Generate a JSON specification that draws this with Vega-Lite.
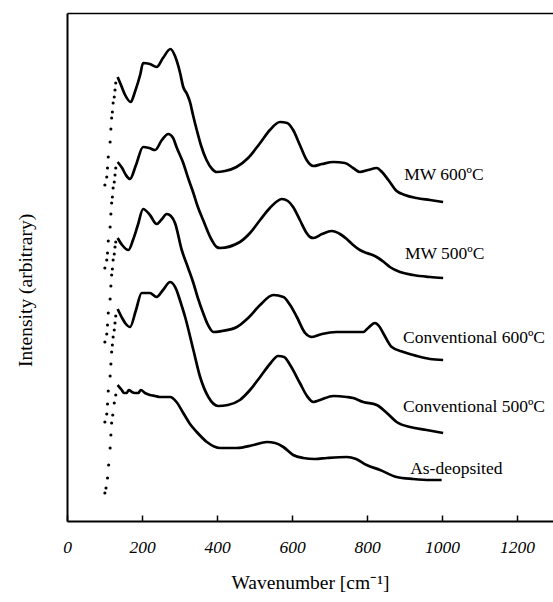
{
  "$schema": "https://vega.github.io/schema/vega-lite/v6.json",
  "autosize": "none",
  "width": 486,
  "height": 508,
  "padding": {"left": 67, "top": 13, "right": 0, "bottom": 81},
  "background": "white",
  "config": {
    "view": {"stroke": null},
    "font": "Liberation Serif",
    "axis": {"labelFont": "Liberation Serif", "titleFont": "Liberation Serif"}
  },
  "resolve": {"axis": {"x": "independent"}},
  "datasets": {
    "curves": [
      {"series": "MW600", "wn": 135, "inten": 444}, {"series": "MW600", "wn": 144, "inten": 436}, {"series": "MW600", "wn": 155, "inten": 426}, {"series": "MW600", "wn": 170, "inten": 419}, {"series": "MW600", "wn": 181, "inten": 429}, {"series": "MW600", "wn": 195, "inten": 446}, {"series": "MW600", "wn": 203, "inten": 458}, {"series": "MW600", "wn": 221, "inten": 457}, {"series": "MW600", "wn": 239, "inten": 454}, {"series": "MW600", "wn": 256, "inten": 463}, {"series": "MW600", "wn": 276, "inten": 472}, {"series": "MW600", "wn": 288, "inten": 465}, {"series": "MW600", "wn": 301, "inten": 449}, {"series": "MW600", "wn": 310, "inten": 434}, {"series": "MW600", "wn": 320, "inten": 427}, {"series": "MW600", "wn": 328, "inten": 419}, {"series": "MW600", "wn": 336, "inten": 406}, {"series": "MW600", "wn": 346, "inten": 391}, {"series": "MW600", "wn": 357, "inten": 376}, {"series": "MW600", "wn": 372, "inten": 361}, {"series": "MW600", "wn": 387, "inten": 352}, {"series": "MW600", "wn": 399, "inten": 349}, {"series": "MW600", "wn": 421, "inten": 350}, {"series": "MW600", "wn": 452, "inten": 354}, {"series": "MW600", "wn": 483, "inten": 363}, {"series": "MW600", "wn": 515, "inten": 378}, {"series": "MW600", "wn": 541, "inten": 391}, {"series": "MW600", "wn": 568, "inten": 399}, {"series": "MW600", "wn": 587, "inten": 398}, {"series": "MW600", "wn": 603, "inten": 391}, {"series": "MW600", "wn": 621, "inten": 376}, {"series": "MW600", "wn": 639, "inten": 361}, {"series": "MW600", "wn": 657, "inten": 355}, {"series": "MW600", "wn": 680, "inten": 357}, {"series": "MW600", "wn": 710, "inten": 359}, {"series": "MW600", "wn": 741, "inten": 358}, {"series": "MW600", "wn": 763, "inten": 353}, {"series": "MW600", "wn": 781, "inten": 349}, {"series": "MW600", "wn": 803, "inten": 351}, {"series": "MW600", "wn": 826, "inten": 353}, {"series": "MW600", "wn": 840, "inten": 349}, {"series": "MW600", "wn": 857, "inten": 341}, {"series": "MW600", "wn": 879, "inten": 330}, {"series": "MW600", "wn": 901, "inten": 326}, {"series": "MW600", "wn": 932, "inten": 323}, {"series": "MW600", "wn": 968, "inten": 321}, {"series": "MW600", "wn": 1003, "inten": 319},

      {"series": "MW500", "wn": 135, "inten": 359}, {"series": "MW500", "wn": 147, "inten": 353}, {"series": "MW500", "wn": 157, "inten": 346}, {"series": "MW500", "wn": 168, "inten": 342}, {"series": "MW500", "wn": 184, "inten": 356}, {"series": "MW500", "wn": 203, "inten": 374}, {"series": "MW500", "wn": 219, "inten": 373}, {"series": "MW500", "wn": 235, "inten": 371}, {"series": "MW500", "wn": 253, "inten": 381}, {"series": "MW500", "wn": 270, "inten": 387}, {"series": "MW500", "wn": 283, "inten": 383}, {"series": "MW500", "wn": 292, "inten": 374}, {"series": "MW500", "wn": 310, "inten": 358}, {"series": "MW500", "wn": 323, "inten": 343}, {"series": "MW500", "wn": 337, "inten": 328}, {"series": "MW500", "wn": 349, "inten": 314}, {"series": "MW500", "wn": 363, "inten": 301}, {"series": "MW500", "wn": 386, "inten": 281}, {"series": "MW500", "wn": 399, "inten": 274}, {"series": "MW500", "wn": 408, "inten": 273}, {"series": "MW500", "wn": 461, "inten": 279}, {"series": "MW500", "wn": 488, "inten": 288}, {"series": "MW500", "wn": 515, "inten": 301}, {"series": "MW500", "wn": 541, "inten": 313}, {"series": "MW500", "wn": 573, "inten": 322}, {"series": "MW500", "wn": 589, "inten": 320}, {"series": "MW500", "wn": 603, "inten": 314}, {"series": "MW500", "wn": 621, "inten": 301}, {"series": "MW500", "wn": 639, "inten": 288}, {"series": "MW500", "wn": 648, "inten": 284}, {"series": "MW500", "wn": 657, "inten": 283}, {"series": "MW500", "wn": 680, "inten": 287}, {"series": "MW500", "wn": 706, "inten": 290}, {"series": "MW500", "wn": 728, "inten": 287}, {"series": "MW500", "wn": 746, "inten": 282}, {"series": "MW500", "wn": 763, "inten": 276}, {"series": "MW500", "wn": 781, "inten": 271}, {"series": "MW500", "wn": 799, "inten": 268}, {"series": "MW500", "wn": 815, "inten": 266}, {"series": "MW500", "wn": 830, "inten": 263}, {"series": "MW500", "wn": 845, "inten": 259}, {"series": "MW500", "wn": 861, "inten": 254}, {"series": "MW500", "wn": 888, "inten": 249}, {"series": "MW500", "wn": 923, "inten": 246}, {"series": "MW500", "wn": 968, "inten": 244}, {"series": "MW500", "wn": 1003, "inten": 243},

      {"series": "C600", "wn": 135, "inten": 283}, {"series": "C600", "wn": 147, "inten": 276}, {"series": "C600", "wn": 164, "inten": 271}, {"series": "C600", "wn": 176, "inten": 281}, {"series": "C600", "wn": 189, "inten": 296}, {"series": "C600", "wn": 203, "inten": 312}, {"series": "C600", "wn": 221, "inten": 306}, {"series": "C600", "wn": 239, "inten": 297}, {"series": "C600", "wn": 251, "inten": 301}, {"series": "C600", "wn": 266, "inten": 307}, {"series": "C600", "wn": 277, "inten": 305}, {"series": "C600", "wn": 288, "inten": 298}, {"series": "C600", "wn": 306, "inten": 271}, {"series": "C600", "wn": 323, "inten": 253}, {"series": "C600", "wn": 337, "inten": 238}, {"series": "C600", "wn": 349, "inten": 223}, {"series": "C600", "wn": 363, "inten": 208}, {"series": "C600", "wn": 376, "inten": 196}, {"series": "C600", "wn": 390, "inten": 189}, {"series": "C600", "wn": 413, "inten": 190}, {"series": "C600", "wn": 453, "inten": 194}, {"series": "C600", "wn": 483, "inten": 203}, {"series": "C600", "wn": 515, "inten": 216}, {"series": "C600", "wn": 550, "inten": 226}, {"series": "C600", "wn": 577, "inten": 224}, {"series": "C600", "wn": 595, "inten": 216}, {"series": "C600", "wn": 613, "inten": 204}, {"series": "C600", "wn": 635, "inten": 188}, {"series": "C600", "wn": 653, "inten": 184}, {"series": "C600", "wn": 680, "inten": 187}, {"series": "C600", "wn": 719, "inten": 189}, {"series": "C600", "wn": 755, "inten": 189}, {"series": "C600", "wn": 790, "inten": 189}, {"series": "C600", "wn": 803, "inten": 193}, {"series": "C600", "wn": 821, "inten": 198}, {"series": "C600", "wn": 832, "inten": 195}, {"series": "C600", "wn": 843, "inten": 188}, {"series": "C600", "wn": 866, "inten": 174}, {"series": "C600", "wn": 897, "inten": 169}, {"series": "C600", "wn": 933, "inten": 165}, {"series": "C600", "wn": 968, "inten": 162}, {"series": "C600", "wn": 1003, "inten": 161},

      {"series": "C500", "wn": 135, "inten": 212}, {"series": "C500", "wn": 147, "inten": 203}, {"series": "C500", "wn": 157, "inten": 197}, {"series": "C500", "wn": 168, "inten": 194}, {"series": "C500", "wn": 184, "inten": 211}, {"series": "C500", "wn": 199, "inten": 228}, {"series": "C500", "wn": 221, "inten": 228}, {"series": "C500", "wn": 239, "inten": 224}, {"series": "C500", "wn": 256, "inten": 231}, {"series": "C500", "wn": 275, "inten": 239}, {"series": "C500", "wn": 292, "inten": 231}, {"series": "C500", "wn": 301, "inten": 221}, {"series": "C500", "wn": 315, "inten": 204}, {"series": "C500", "wn": 337, "inten": 171}, {"series": "C500", "wn": 355, "inten": 144}, {"series": "C500", "wn": 377, "inten": 124}, {"series": "C500", "wn": 403, "inten": 115}, {"series": "C500", "wn": 429, "inten": 116}, {"series": "C500", "wn": 461, "inten": 121}, {"series": "C500", "wn": 488, "inten": 131}, {"series": "C500", "wn": 515, "inten": 144}, {"series": "C500", "wn": 541, "inten": 157}, {"series": "C500", "wn": 563, "inten": 165}, {"series": "C500", "wn": 579, "inten": 164}, {"series": "C500", "wn": 595, "inten": 156}, {"series": "C500", "wn": 621, "inten": 138}, {"series": "C500", "wn": 640, "inten": 125}, {"series": "C500", "wn": 657, "inten": 119}, {"series": "C500", "wn": 675, "inten": 121}, {"series": "C500", "wn": 710, "inten": 125}, {"series": "C500", "wn": 746, "inten": 124}, {"series": "C500", "wn": 763, "inten": 123}, {"series": "C500", "wn": 790, "inten": 119}, {"series": "C500", "wn": 826, "inten": 116}, {"series": "C500", "wn": 853, "inten": 108}, {"series": "C500", "wn": 879, "inten": 99}, {"series": "C500", "wn": 915, "inten": 94}, {"series": "C500", "wn": 959, "inten": 91}, {"series": "C500", "wn": 1003, "inten": 88},

      {"series": "AsDep", "wn": 135, "inten": 136}, {"series": "AsDep", "wn": 146, "inten": 131}, {"series": "AsDep", "wn": 152, "inten": 128}, {"series": "AsDep", "wn": 159, "inten": 128}, {"series": "AsDep", "wn": 165, "inten": 131}, {"series": "AsDep", "wn": 173, "inten": 129}, {"series": "AsDep", "wn": 181, "inten": 128}, {"series": "AsDep", "wn": 190, "inten": 128}, {"series": "AsDep", "wn": 197, "inten": 131}, {"series": "AsDep", "wn": 208, "inten": 128}, {"series": "AsDep", "wn": 221, "inten": 126}, {"series": "AsDep", "wn": 235, "inten": 125}, {"series": "AsDep", "wn": 248, "inten": 124}, {"series": "AsDep", "wn": 275, "inten": 124}, {"series": "AsDep", "wn": 292, "inten": 119}, {"series": "AsDep", "wn": 310, "inten": 108}, {"series": "AsDep", "wn": 328, "inten": 97}, {"series": "AsDep", "wn": 346, "inten": 89}, {"series": "AsDep", "wn": 373, "inten": 79}, {"series": "AsDep", "wn": 408, "inten": 73}, {"series": "AsDep", "wn": 453, "inten": 73}, {"series": "AsDep", "wn": 497, "inten": 76}, {"series": "AsDep", "wn": 533, "inten": 79}, {"series": "AsDep", "wn": 555, "inten": 78}, {"series": "AsDep", "wn": 577, "inten": 74}, {"series": "AsDep", "wn": 603, "inten": 66}, {"series": "AsDep", "wn": 630, "inten": 63}, {"series": "AsDep", "wn": 661, "inten": 62}, {"series": "AsDep", "wn": 693, "inten": 63}, {"series": "AsDep", "wn": 746, "inten": 64}, {"series": "AsDep", "wn": 771, "inten": 62}, {"series": "AsDep", "wn": 799, "inten": 56}, {"series": "AsDep", "wn": 835, "inten": 51}, {"series": "AsDep", "wn": 879, "inten": 44}, {"series": "AsDep", "wn": 923, "inten": 42}, {"series": "AsDep", "wn": 968, "inten": 41}, {"series": "AsDep", "wn": 999, "inten": 41}
    ],
    "dots": [
      {"series": "MW600", "wn": 101, "inten": 336}, {"series": "MW600", "wn": 106, "inten": 344}, {"series": "MW600", "wn": 108, "inten": 353}, {"series": "MW600", "wn": 110, "inten": 364}, {"series": "MW600", "wn": 115, "inten": 379}, {"series": "MW600", "wn": 117, "inten": 392}, {"series": "MW600", "wn": 119, "inten": 403}, {"series": "MW600", "wn": 121, "inten": 409}, {"series": "MW600", "wn": 123, "inten": 418}, {"series": "MW600", "wn": 126, "inten": 424}, {"series": "MW600", "wn": 128, "inten": 431}, {"series": "MW600", "wn": 130, "inten": 438},
      {"series": "MW500", "wn": 101, "inten": 253}, {"series": "MW500", "wn": 106, "inten": 261}, {"series": "MW500", "wn": 108, "inten": 268}, {"series": "MW500", "wn": 110, "inten": 280}, {"series": "MW500", "wn": 115, "inten": 294}, {"series": "MW500", "wn": 117, "inten": 307}, {"series": "MW500", "wn": 119, "inten": 318}, {"series": "MW500", "wn": 121, "inten": 324}, {"series": "MW500", "wn": 123, "inten": 333}, {"series": "MW500", "wn": 126, "inten": 339}, {"series": "MW500", "wn": 128, "inten": 346}, {"series": "MW500", "wn": 130, "inten": 353},
      {"series": "C600", "wn": 101, "inten": 179}, {"series": "C600", "wn": 106, "inten": 187}, {"series": "C600", "wn": 108, "inten": 196}, {"series": "C600", "wn": 110, "inten": 208}, {"series": "C600", "wn": 115, "inten": 222}, {"series": "C600", "wn": 117, "inten": 235}, {"series": "C600", "wn": 119, "inten": 246}, {"series": "C600", "wn": 121, "inten": 252}, {"series": "C600", "wn": 123, "inten": 261}, {"series": "C600", "wn": 126, "inten": 267}, {"series": "C600", "wn": 128, "inten": 274}, {"series": "C600", "wn": 130, "inten": 279},
      {"series": "C500", "wn": 101, "inten": 99}, {"series": "C500", "wn": 106, "inten": 107}, {"series": "C500", "wn": 108, "inten": 117}, {"series": "C500", "wn": 110, "inten": 130}, {"series": "C500", "wn": 115, "inten": 145}, {"series": "C500", "wn": 117, "inten": 157}, {"series": "C500", "wn": 119, "inten": 169}, {"series": "C500", "wn": 121, "inten": 176}, {"series": "C500", "wn": 123, "inten": 184}, {"series": "C500", "wn": 126, "inten": 191}, {"series": "C500", "wn": 128, "inten": 198}, {"series": "C500", "wn": 130, "inten": 205},
      {"series": "AsDep", "wn": 101, "inten": 28}, {"series": "AsDep", "wn": 104, "inten": 33}, {"series": "AsDep", "wn": 108, "inten": 43}, {"series": "AsDep", "wn": 111, "inten": 56}, {"series": "AsDep", "wn": 115, "inten": 73}, {"series": "AsDep", "wn": 117, "inten": 86}, {"series": "AsDep", "wn": 119, "inten": 98}, {"series": "AsDep", "wn": 122, "inten": 106}, {"series": "AsDep", "wn": 126, "inten": 118}, {"series": "AsDep", "wn": 130, "inten": 126}
    ],
    "labels": [
      {"text": "MW 600ºC", "wn": 899, "inten": 341},
      {"text": "MW 500ºC", "wn": 901, "inten": 262},
      {"text": "Conventional 600ºC", "wn": 896, "inten": 178},
      {"text": "Conventional 500ºC", "wn": 896, "inten": 109},
      {"text": "As-deopsited", "wn": 915, "inten": 47}
    ]
  },
  "layer": [
    {
      "data": {"name": "curves"},
      "mark": {"type": "line", "color": "black", "strokeWidth": 2.7, "interpolate": "monotone"},
      "encoding": {
        "x": {
          "field": "wn", "type": "quantitative",
          "scale": {"domain": [0, 1296], "nice": false},
          "axis": {
            "values": [0, 200, 400, 600, 800, 1000, 1200],
            "format": "d",
            "title": "Wavenumber [cm⁻¹]",
            "grid": false,
            "domainColor": "black", "domainWidth": 2,
            "tickColor": "black", "tickWidth": 1.5, "tickSize": -6,
            "labelFont": "Liberation Serif", "labelFontStyle": "italic", "labelFontSize": 17.5, "labelColor": "black",
            "labelPadding": 23, "labelFlush": false,
            "titleFont": "Liberation Serif", "titleFontWeight": "normal", "titleFontSize": 19.5, "titleColor": "black",
            "titleBaseline": "alphabetic", "titleY": 67
          }
        },
        "y": {
          "field": "inten", "type": "quantitative",
          "scale": {"domain": [0, 508], "nice": false},
          "axis": {
            "title": "Intensity (arbitrary)",
            "grid": false, "ticks": false, "labels": false,
            "domainColor": "black", "domainWidth": 2,
            "titleFont": "Liberation Serif", "titleFontWeight": "normal", "titleFontSize": 19.5, "titleColor": "black",
            "titleBaseline": "alphabetic", "titleX": -36, "titleY": 277
          }
        },
        "detail": {"field": "series"}
      }
    },
    {
      "data": {"name": "dots"},
      "mark": {"type": "circle", "color": "black", "size": 10, "opacity": 1},
      "encoding": {
        "x": {"field": "wn", "type": "quantitative", "axis": null},
        "y": {"field": "inten", "type": "quantitative"}
      }
    },
    {
      "data": {"name": "labels"},
      "mark": {"type": "text", "font": "Liberation Serif", "fontSize": 17.5, "align": "left", "baseline": "alphabetic", "color": "black"},
      "encoding": {
        "x": {
          "field": "wn", "type": "quantitative",
          "axis": {"orient": "top", "title": null, "labels": false, "ticks": false, "grid": false, "domainColor": "black", "domainWidth": 1.5}
        },
        "y": {"field": "inten", "type": "quantitative"},
        "text": {"field": "text"}
      }
    }
  ]
}
